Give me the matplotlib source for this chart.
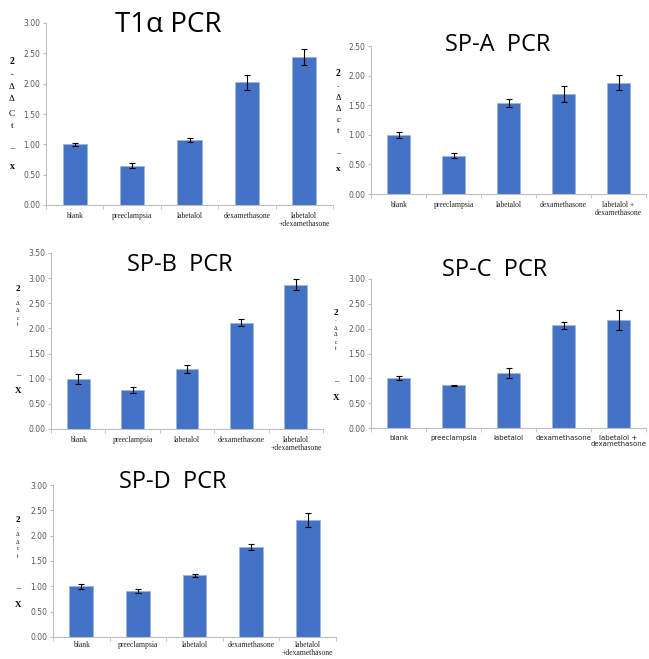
import matplotlib
matplotlib.use("Agg")
import matplotlib.pyplot as plt
import numpy as np

# categorias (eixo x)
grupos = ["blank", "preeclampsia", "labetalol", "dexamethasone", "labetalol+dexamethasone"]

# valores 2^-ddCt (media) e erro de cada gene
t1a_media = [1.00, 0.65, 1.07, 2.02, 2.44]
t1a_erro = [0.03, 0.04, 0.03, 0.12, 0.13]

spa_media = [1.00, 0.65, 1.54, 1.69, 1.88]
spa_erro = [0.05, 0.05, 0.065, 0.135, 0.13]

spb_media = [1.00, 0.78, 1.19, 2.11, 2.87]
spb_erro = [0.10, 0.065, 0.08, 0.07, 0.11]

spc_media = [1.00, 0.86, 1.11, 2.07, 2.18]
spc_erro = [0.04, 0.015, 0.10, 0.07, 0.20]

spd_media = [1.00, 0.90, 1.22, 1.77, 2.31]
spd_erro = [0.045, 0.04, 0.03, 0.06, 0.14]

W, H = 649, 659
fig = plt.figure(figsize=(W / 100, H / 100), dpi=100)

AZUL = "#4472C4"
CINZA = "#595959"


def px_axes(esq, dir_, topo, base):
    return fig.add_axes([esq / W, 1 - base / H, (dir_ - esq) / W, (base - topo) / H])


def painel(media, erro, rect, ymax, titulo, tpos, tsize, ultimo, serif, ylab, pad=5):
    ax = px_axes(*rect)
    x = np.arange(len(grupos))
    ax.bar(x, media, width=0.42, color=AZUL, edgecolor="#9DB5E3", linewidth=0.6,
           yerr=erro, error_kw=dict(ecolor="black", elinewidth=0.8, capsize=2.5, capthick=0.8))
    ax.set_xlim(-0.5, len(grupos) - 0.5)
    ax.set_ylim(0, ymax)
    ax.set_yticks(np.arange(0, ymax + 0.01, 0.5))
    ax.set_yticklabels([f"{v:.2f}" for v in np.arange(0, ymax + 0.01, 0.5)],
                       fontsize=5.5, color=CINZA)
    rotulos = grupos[:-1] + [ultimo]
    fam = "Liberation Serif" if serif else "DejaVu Sans"
    ax.set_xticks(x)
    ax.set_xticklabels(rotulos, fontsize=5.5 if serif else 5, family=fam, color="#222222",
                       linespacing=1.0)
    ax.set_xticks(np.arange(-0.5, len(grupos)), minor=True)
    ax.tick_params(axis="x", which="major", length=0, pad=pad)
    ax.tick_params(axis="x", which="minor", length=3, color="#BFBFBF")
    ax.tick_params(axis="y", length=2, color="#BFBFBF", pad=2)
    for s in ["top", "right"]:
        ax.spines[s].set_visible(False)
    for s in ["left", "bottom"]:
        ax.spines[s].set_color("#BFBFBF")
        ax.spines[s].set_linewidth(0.8)
    ax.patch.set_visible(False)

    fig.text(tpos[0] / W, 1 - tpos[1] / H, titulo, fontsize=tsize,
             family=["Open Sans", "DejaVu Sans"], ha="center", va="center")

    # rotulo do eixo y escrito na vertical, um caractere por linha
    lx, ly, chars, tam, passo = ylab
    yy = ly
    for c, fs, dy in zip(chars, tam, passo):
        fig.text(lx / W, 1 - yy / H, c, fontsize=fs, ha="center", va="center",
                 family=["Liberation Serif", "DejaVu Sans"], fontweight="bold" if c in "2xX" else "normal")
        yy += dy


cars1 = ["2", "-", "Δ", "Δ", "C", "t", "_", "x"]
tam1 = [7, 6, 6.5, 6.5, 6.5, 6.5, 6.5, 7]
passo1 = [13, 12, 12, 15, 12, 20, 21, 0]

cars2 = ["2", "-", "Δ", "Δ", "c", "t", "_", "x"]
tam2 = [7, 5, 6, 6, 6, 6, 6, 6.5]
passo2 = [13, 11, 11, 11, 11, 20, 18, 0]

cars_peq = ["2", "-", "Δ", "Δ", "c", "t", "_", "X"]
tam_peq = [6.5, 3.5, 4, 4, 4, 4, 6, 6.5]
passo_b = [8, 7, 7, 7, 7, 48, 18, 0]
passo_c = [8, 7, 7, 7, 7, 30, 19, 0]

painel(t1a_media, t1a_erro, (46, 333, 23, 205), 3.0, "T1α PCR", (168, 25), 20,
       "labetalol\n+dexamethasone", True, (12, 62, cars1, tam1, passo1))
painel(spa_media, spa_erro, (371, 646, 46, 194), 2.5, "SP-A  PCR", (498, 45), 17,
       "labetalol +\ndexamethasone", True, (338, 74, cars2, tam2, passo2))
painel(spb_media, spb_erro, (51, 323, 253, 429), 3.5, "SP-B  PCR", (180, 265), 17,
       "labetalol\n+dexamethasone", True, (18, 289, cars_peq, tam_peq, passo_b))
painel(spc_media, spc_erro, (371, 646, 279, 428), 3.0, "SP-C  PCR", (495, 270), 17,
       "labetalol +\ndexamethasone", False, (336, 313, cars_peq, tam_peq, passo_c))
painel(spd_media, spd_erro, (53, 336, 485, 637), 3.0, "SP-D  PCR", (173, 482), 17,
       "labetalol\n+dexamethasone", True, (18, 520, cars_peq, tam_peq, passo_c), pad=3)

fig.savefig("out.png", dpi=100)
